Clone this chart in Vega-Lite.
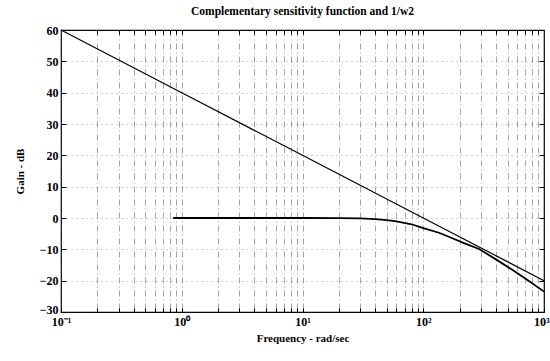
{
  "$schema": "https://vega.github.io/schema/vega-lite/v6.json",
  "width": 483,
  "height": 282,
  "autosize": "none",
  "padding": {"left": 61, "top": 30, "right": 6, "bottom": 49},
  "background": "white",
  "title": {"text": "Complementary sensitivity function and 1/w2", "font": "Liberation Serif", "fontSize": 11.5, "fontWeight": "bold", "color": "black", "offset": 7},
  "config": {"view": {"stroke": "black", "strokeWidth": 1.2}},
  "data": {"values": [
    {"series": "1/w2", "freq": 0.1, "gain": 60},
    {"series": "1/w2", "freq": 1, "gain": 40},
    {"series": "1/w2", "freq": 10, "gain": 20},
    {"series": "1/w2", "freq": 100, "gain": 0},
    {"series": "1/w2", "freq": 1000, "gain": -20},
    {"series": "T", "freq": 0.85, "gain": 0},
    {"series": "T", "freq": 5, "gain": 0},
    {"series": "T", "freq": 10, "gain": 0},
    {"series": "T", "freq": 20, "gain": -0.05},
    {"series": "T", "freq": 30, "gain": -0.15},
    {"series": "T", "freq": 40, "gain": -0.35},
    {"series": "T", "freq": 50, "gain": -0.7},
    {"series": "T", "freq": 60, "gain": -1.1},
    {"series": "T", "freq": 80, "gain": -2.0},
    {"series": "T", "freq": 100, "gain": -3.2},
    {"series": "T", "freq": 135, "gain": -4.7},
    {"series": "T", "freq": 170, "gain": -6.3},
    {"series": "T", "freq": 220, "gain": -8.1},
    {"series": "T", "freq": 290, "gain": -9.9},
    {"series": "T", "freq": 400, "gain": -13.2},
    {"series": "T", "freq": 550, "gain": -16.6},
    {"series": "T", "freq": 750, "gain": -20.1},
    {"series": "T", "freq": 1000, "gain": -23.5}
  ]},
  "layer": [
    {
      "transform": [{"filter": "datum.series == '1/w2'"}],
      "mark": {"type": "line", "color": "black", "strokeWidth": 1.2},
      "encoding": {
        "x": {"field": "freq", "type": "quantitative",
          "scale": {"type": "log", "domain": [0.1, 1000], "nice": false},
          "axis": {"orient": "bottom",
            "values": [0.1,0.2,0.3,0.4,0.5,0.6,0.7,0.8,0.9,1,2,3,4,5,6,7,8,9,10,20,30,40,50,60,70,80,90,100,200,300,400,500,600,700,800,900,1000],
            "labelExpr": "datum.value == 0.1 ? '10⁻¹' : datum.value == 1 ? '10⁰' : datum.value == 10 ? '10¹' : datum.value == 100 ? '10²' : datum.value == 1000 ? '10³' : ''",
            "labelAlign": {"condition": {"test": "datum.value == 1000", "value": "right"}, "value": "center"},
            "labelOffset": {"condition": {"test": "datum.value == 1000", "value": 5}, "value": 0},
            "grid": true, "gridColor": "#333", "gridDash": [6, 3, 1, 3], "gridWidth": 0.6, "gridOpacity": 0.75,
            "domain": false, "tickSize": -4, "tickColor": "black", "tickWidth": 1,
            "labelFont": "Liberation Serif", "labelFontWeight": "bold", "labelFontSize": 12, "labelColor": "black", "labelPadding": 8, "labelFlush": false, "labelOverlap": false,
            "title": "Frequency - rad/sec", "titleFont": "Liberation Serif", "titleFontSize": 11, "titleFontWeight": "bold", "titleColor": "black", "titlePadding": 5}},
        "y": {"field": "gain", "type": "quantitative",
          "scale": {"domain": [-30, 60], "nice": false},
          "axis": {"orient": "left", "values": [-30,-20,-10,0,10,20,30,40,50,60],
            "labelOffset": {"condition": {"test": "datum.value == -30", "value": -3}, "value": 0},
            "grid": true, "gridColor": "#444", "gridDash": [1, 4], "gridWidth": 0.7, "gridOpacity": 0.7,
            "domain": false, "tickSize": -5, "tickColor": "black",
            "labelFont": "Liberation Serif", "labelFontWeight": "bold", "labelFontSize": 12, "labelColor": "black", "labelPadding": 8,
            "title": "Gain - dB", "titleFont": "Liberation Serif", "titleFontSize": 11, "titleFontWeight": "bold", "titleColor": "black", "titlePadding": 14}}
      }
    },
    {
      "transform": [{"filter": "datum.series == 'T'"}],
      "mark": {"type": "line", "color": "black", "strokeWidth": 1.8},
      "encoding": {
        "x": {"field": "freq", "type": "quantitative",
          "axis": {"orient": "top",
            "values": [0.2,0.3,0.4,0.5,0.6,0.7,0.8,0.9,1,2,3,4,5,6,7,8,9,10,20,30,40,50,60,70,80,90,100,200,300,400,500,600,700,800,900],
            "labels": false, "grid": false, "domain": false, "tickSize": -4, "tickColor": "black", "title": null}},
        "y": {"field": "gain", "type": "quantitative",
          "axis": {"orient": "right", "values": [-20,-10,0,10,20,30,40,50],
            "labels": false, "grid": false, "domain": false, "tickSize": -5, "tickColor": "black", "title": null}}
      }
    }
  ],
  "resolve": {"axis": {"x": "independent", "y": "independent"}}
}
